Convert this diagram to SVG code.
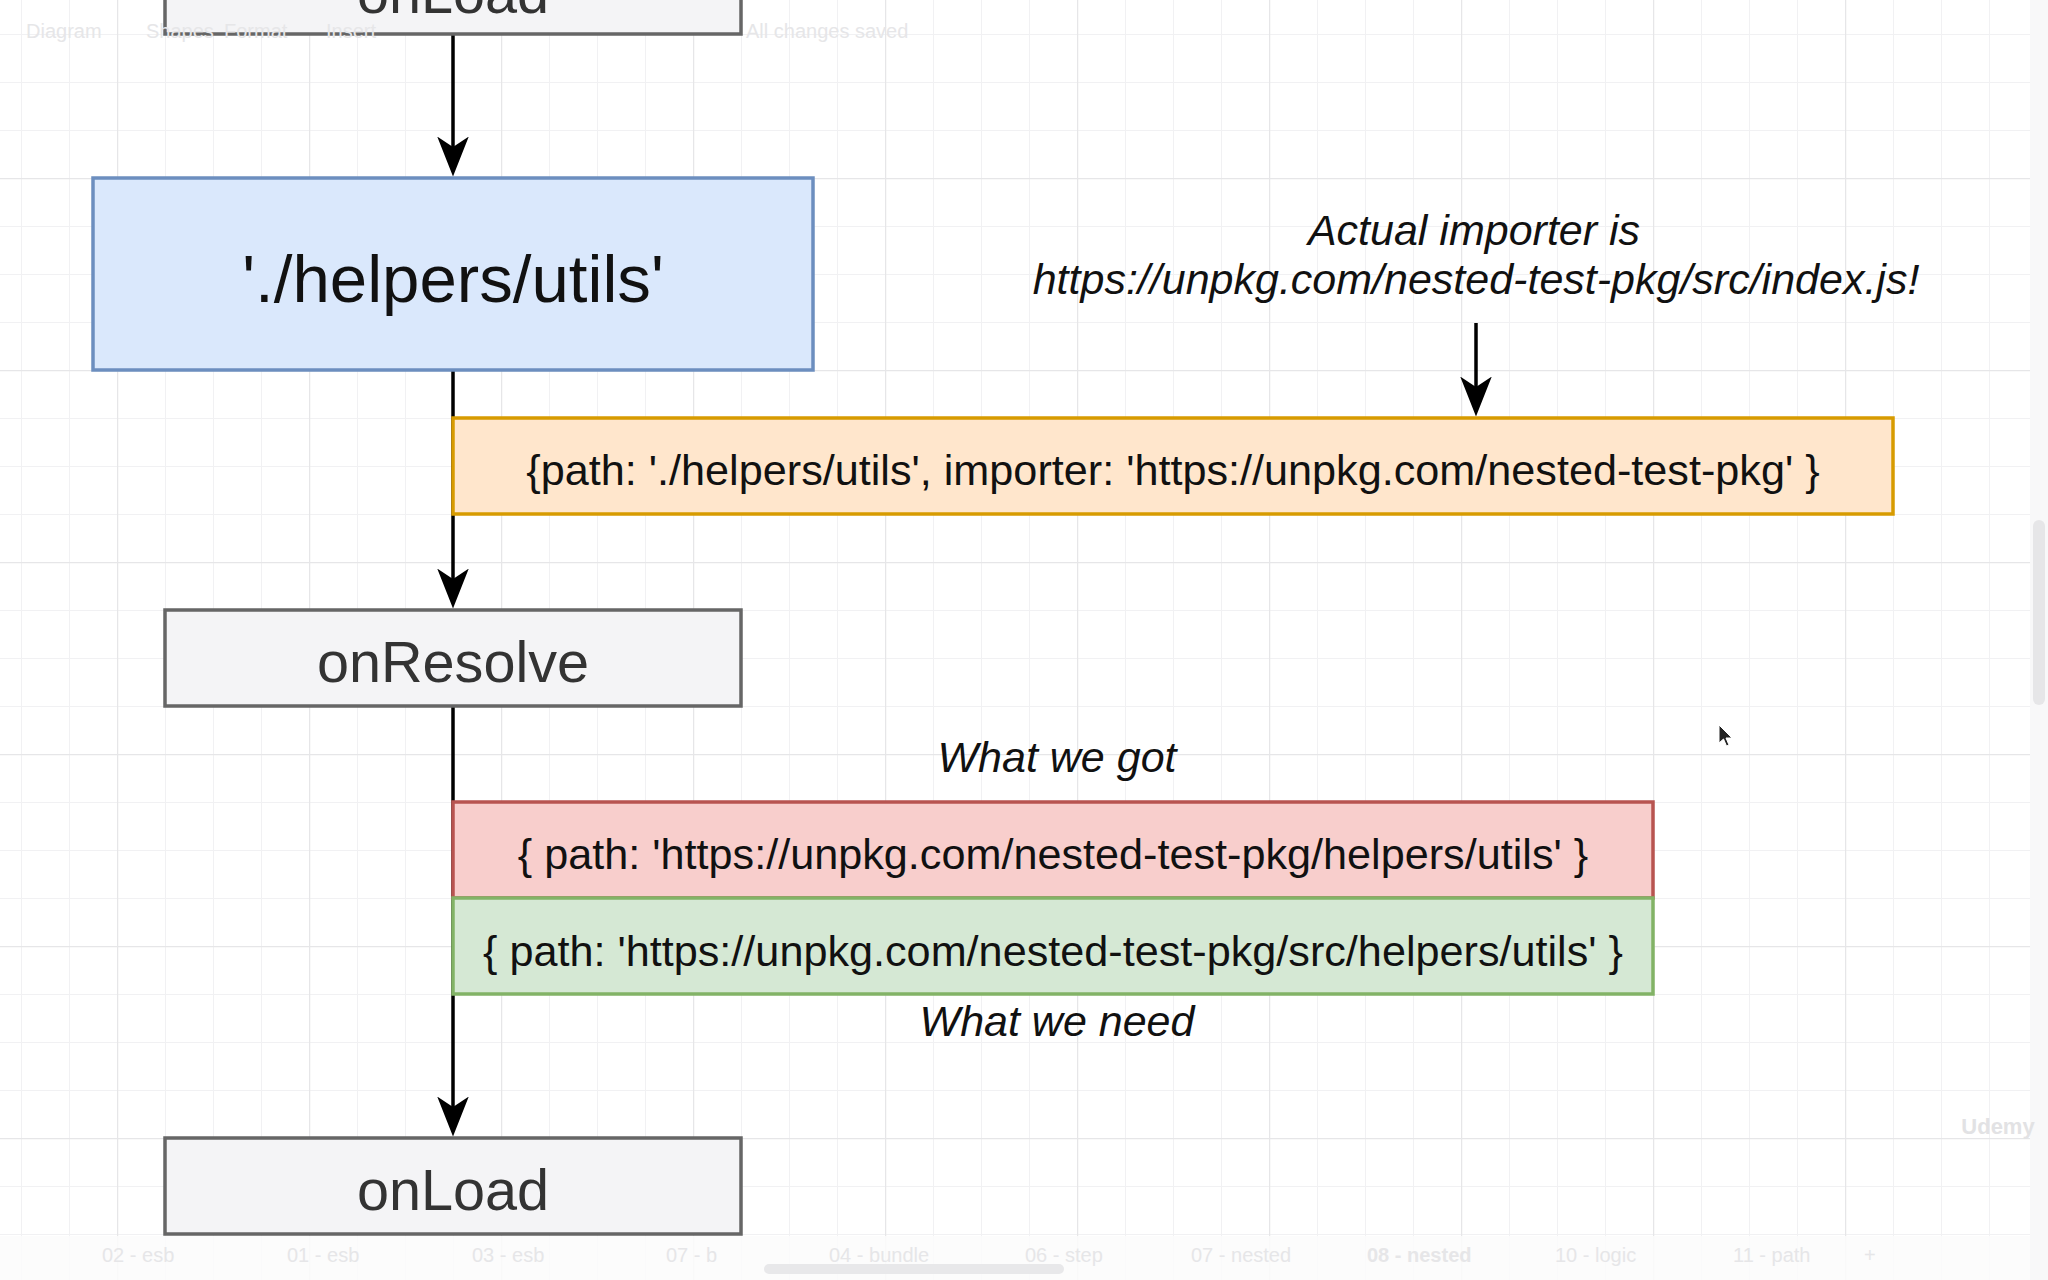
<svg xmlns="http://www.w3.org/2000/svg" width="2048" height="1280" viewBox="0 0 2048 1280">
  <defs>
    <pattern id="gridMinor" patternUnits="userSpaceOnUse" x="21" y="34" width="48" height="48">
      <path d="M0 0 H48 M0 0 V48" fill="none" stroke="#f1f1f3" stroke-width="2"/>
    </pattern>
    <pattern id="gridMajor" patternUnits="userSpaceOnUse" x="117" y="178" width="192" height="192">
      <path d="M0 0 H192 M0 0 V192" fill="none" stroke="#e6e6e8" stroke-width="2.5"/>
    </pattern>
    <marker id="arr" markerUnits="userSpaceOnUse" markerWidth="40" markerHeight="32" viewBox="0 0 38 30" refX="28" refY="15" orient="auto">
      <path d="M0,0 L38,15 L0,30 L10,15 Z" fill="#000"/>
    </marker>
  </defs>
  <style>
    .box { stroke-width: 3.5; }
    .gray { fill: #f4f4f6; stroke: #666666; }
    .lbl { font-family: "Liberation Sans", Arial, Helvetica, sans-serif; text-anchor: middle; }
    .note { font-family: "Liberation Sans", Arial, Helvetica, sans-serif; font-style: italic; font-size: 43px; fill: #111; text-anchor: middle; }
    .conn { stroke: #000; stroke-width: 3.5; fill: none; }
    .ui { font-family: "Liberation Sans", Arial, sans-serif; font-size: 20px; fill: #e6e6e8; }
  </style>

  <!-- background & grid -->
  <rect x="0" y="0" width="2048" height="1280" fill="#ffffff"/>
  <rect x="0" y="0" width="2048" height="1280" fill="url(#gridMinor)"/>
  <rect x="0" y="0" width="2048" height="1280" fill="url(#gridMajor)"/>

  <!-- connectors -->
  <g id="connectors">
    <line class="conn" x1="453" y1="34" x2="453" y2="166" marker-end="url(#arr)"/>
    <line class="conn" x1="453" y1="370" x2="453" y2="598" marker-end="url(#arr)"/>
    <line class="conn" x1="453" y1="706" x2="453" y2="1126" marker-end="url(#arr)"/>
    <line class="conn" x1="1476" y1="323" x2="1476" y2="406" marker-end="url(#arr)"/>
  </g>

  <!-- nodes -->
  <g id="node-onload-top">
    <rect class="box gray" x="165" y="-62" width="576" height="96"/>
    <text class="lbl" x="453" y="13" font-size="57.6" fill="#333333">onLoad</text>
  </g>

  <g id="node-helpers-utils">
    <rect class="box" x="93" y="178" width="720" height="192" fill="#dae8fc" stroke="#6c8ebf"/>
    <text class="lbl" x="453" y="302" font-size="67.2" fill="#111111">'./helpers/utils'</text>
  </g>

  <g id="node-args">
    <rect class="box" x="453" y="418" width="1440" height="96" fill="#ffe6cc" stroke="#d79b00"/>
    <text class="lbl" x="1173" y="485" font-size="43.2" fill="#111111">{path: './helpers/utils', importer: 'https://unpkg.com/nested-test-pkg' }</text>
  </g>

  <g id="node-actual-importer">
    <text class="note" x="1474" y="245">Actual importer is</text>
    <text class="note" x="1476" y="294">https://unpkg.com/nested-test-pkg/src/index.js!</text>
  </g>

  <g id="node-onresolve">
    <rect class="box gray" x="165" y="610" width="576" height="96"/>
    <text class="lbl" x="453" y="682" font-size="57.6" fill="#333333">onResolve</text>
  </g>

  <g id="node-what-we-got">
    <text class="note" x="1057" y="772">What we got</text>
  </g>

  <g id="node-got">
    <rect class="box" x="453" y="802" width="1200" height="96" fill="#f8cecc" stroke="#b85450"/>
    <text class="lbl" x="1053" y="869" font-size="43.2" fill="#111111">{ path: 'https://unpkg.com/nested-test-pkg/helpers/utils' }</text>
  </g>

  <g id="node-need">
    <rect class="box" x="453" y="898" width="1200" height="96" fill="#d5e8d4" stroke="#82b366"/>
    <text class="lbl" x="1053" y="966" font-size="43.2" fill="#111111">{ path: 'https://unpkg.com/nested-test-pkg/src/helpers/utils' }</text>
  </g>

  <g id="node-what-we-need">
    <text class="note" x="1057" y="1036">What we need</text>
  </g>

  <g id="node-onload-bottom">
    <rect class="box gray" x="165" y="1138" width="576" height="96"/>
    <text class="lbl" x="453" y="1210" font-size="57.6" fill="#333333">onLoad</text>
  </g>

  <!-- faint UI chrome (semi-transparent overlay) -->
  <g id="ui-chrome">
    <text class="ui" x="26" y="38">Diagram</text>
    <text class="ui" x="146" y="38">Shapes</text>
    <text class="ui" x="224" y="38">Format</text>
    <text class="ui" x="326" y="38">Insert</text>
    <text class="ui" x="746" y="38">All changes saved</text>
    <rect x="2030" y="0" width="18" height="1280" fill="#f8f8f9"/>
    <rect x="2033" y="520" width="12" height="185" rx="6" fill="#e6e6e8"/>
    <rect x="0" y="1236" width="2030" height="44" fill="#fbfbfc" opacity="0.85"/>
    <rect x="764" y="1264" width="300" height="10" rx="5" fill="#e8e8ea"/>
    <text class="ui" x="102" y="1262">02 - esb</text>
    <text class="ui" x="287" y="1262">01 - esb</text>
    <text class="ui" x="472" y="1262">03 - esb</text>
    <text class="ui" x="666" y="1262">07 - b</text>
    <text class="ui" x="829" y="1262">04 - bundle</text>
    <text class="ui" x="1025" y="1262">06 - step</text>
    <text class="ui" x="1191" y="1262">07 - nested</text>
    <text class="ui" x="1367" y="1262" fill="#dadadc" font-weight="bold">08 - nested</text>
    <text class="ui" x="1555" y="1262">10 - logic</text>
    <text class="ui" x="1733" y="1262">11 - path</text>
    <text class="ui" x="1864" y="1262">+</text>
    <text x="1998" y="1134" font-family="Liberation Sans, Arial, sans-serif" font-size="22" font-weight="bold" fill="#e2e2e4" text-anchor="middle">Udemy</text>
  </g>

  <!-- mouse cursor -->
  <path d="M1719 725 L1719 743 L1723.5 739 L1726.5 746 L1729 745 L1726 738 L1732 738 Z" fill="#222" stroke="#fff" stroke-width="1"/>
</svg>
